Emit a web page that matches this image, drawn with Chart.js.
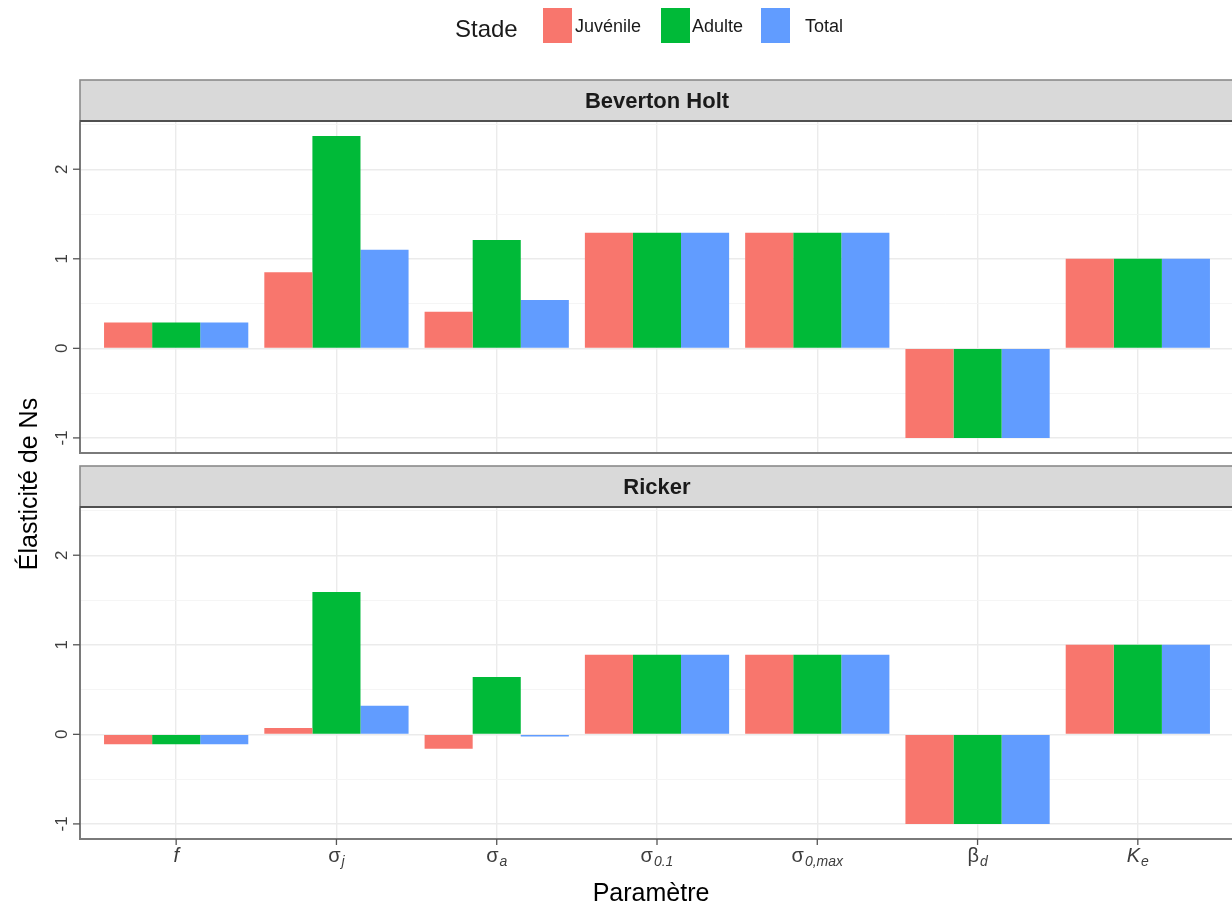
<!DOCTYPE html>
<html><head><meta charset="utf-8">
<script src="https://cdn.jsdelivr.net/npm/chart.js@4.4.1/dist/chart.umd.min.js"></script>
<style>
html,body{margin:0;padding:0;background:#fff;}
#wrap{position:relative;width:1232px;height:906px;overflow:hidden;background:#fff;}
#wrap canvas{position:absolute;left:0;top:0;}
</style></head><body>
<div id="wrap"><canvas id="cTop" width="1234" height="906"></canvas><canvas id="cBot" width="1234" height="906"></canvas></div>
<script>
// ---- data ----
const categories = ['f', 'σj', 'σa', 'σ0.1', 'σ0,max', 'βd', 'Ke'];
const tickBase   = ['f', 'σ', 'σ', 'σ', 'σ', 'β', 'K'];
const tickSub    = ['', 'j', 'a', '0.1', '0,max', 'd', 'e'];
const seriesNames = ['Juvénile', 'Adulte', 'Total'];
const panelNames = ['Beverton Holt', 'Ricker'];
const bhJuvenile = [0.29, 0.85, 0.41, 1.29, 1.29, -1, 1];
const bhAdulte   = [0.29, 2.37, 1.21, 1.29, 1.29, -1, 1];
const bhTotal    = [0.29, 1.10, 0.54, 1.29, 1.29, -1, 1];
const rkJuvenile = [-0.11, 0.07, -0.16, 0.89, 0.89, -1, 1];
const rkAdulte   = [-0.11, 1.59, 0.64, 0.89, 0.89, -1, 1];
const rkTotal    = [-0.11, 0.32, -0.025, 0.89, 0.89, -1, 1];
const yTickValues = [-1, 0, 1, 2];
const legendTitle = 'Stade';
const xTitle = 'Paramètre';
const yTitle = 'Élasticité de Ns';

// ---- styling ----
const colors = ['#F8766D', '#00BA38', '#619CFF'];
const FONT = '"Liberation Sans", Arial, Helvetica, sans-serif';
const allVals = [].concat(bhJuvenile, bhAdulte, bhTotal, rkJuvenile, rkAdulte, rkTotal);
const dMin = Math.min(...allVals), dMax = Math.max(...allVals);
const yMin = dMin - 0.05 * (dMax - dMin), yMax = dMax + 0.05 * (dMax - dMin);
const yGridValues = [];
for (let v = Math.ceil(yMin * 2) / 2; v <= yMax + 1e-9; v += 0.5) yGridValues.push(Math.round(v * 2) / 2);

function drawTickLabel(ctx, base, sub, cx, baseline) {
  const baseFont = (/[A-Za-z]/.test(base) ? 'italic ' : '') + '20px ' + FONT;
  const subFont = 'italic 14px ' + FONT;
  ctx.font = baseFont; const wb = ctx.measureText(base).width;
  ctx.font = subFont; const ws = sub ? ctx.measureText(sub).width + 1 : 0;
  const x0 = cx - (wb + ws) / 2;
  ctx.textAlign = 'left'; ctx.textBaseline = 'alphabetic';
  ctx.fillStyle = '#3d3d3d';
  ctx.font = baseFont; ctx.fillText(base, x0, baseline);
  if (sub) { ctx.font = subFont; ctx.fillText(sub, x0 + wb + 1, baseline + 4); }
}

const facetPlugin = {
  id: 'facet',
  afterDraw(chart, args, opts) {
    const ctx = chart.ctx, a = chart.chartArea;
    const xs = chart.scales.x, ys = chart.scales.y;
    ctx.save();
    // panel border
    ctx.strokeStyle = '#7a7a7a'; ctx.lineWidth = 2;
    ctx.strokeRect(a.left, a.top, a.right - a.left, a.bottom - a.top);
    // strip
    const sh = 41;
    ctx.fillStyle = '#D9D9D9';
    ctx.fillRect(a.left, a.top - sh, a.right - a.left, sh);
    ctx.strokeStyle = '#8a8a8a'; ctx.lineWidth = 1.6;
    ctx.strokeRect(a.left, a.top - sh, a.right - a.left, sh);
    ctx.strokeStyle = '#505050'; ctx.lineWidth = 2;
    ctx.beginPath(); ctx.moveTo(a.left, a.top); ctx.lineTo(a.right, a.top); ctx.stroke();
    ctx.fillStyle = '#1A1A1A'; ctx.font = 'bold 22px ' + FONT;
    ctx.textAlign = 'center'; ctx.textBaseline = 'middle';
    ctx.fillText(opts.title, (a.left + a.right) / 2, a.top - sh / 2 + 1);
    // y ticks + labels
    ctx.strokeStyle = '#555'; ctx.lineWidth = 1.3;
    for (const v of yTickValues) {
      const py = ys.getPixelForValue(v);
      ctx.beginPath(); ctx.moveTo(a.left - 7, py); ctx.lineTo(a.left, py); ctx.stroke();
      ctx.save();
      ctx.translate(67, py); ctx.rotate(-Math.PI / 2);
      ctx.fillStyle = '#3d3d3d'; ctx.font = '17px ' + FONT;
      ctx.textAlign = 'center'; ctx.textBaseline = 'alphabetic';
      ctx.fillText(String(v), 0, 0);
      ctx.restore();
    }
    if (opts.bottom) {
      // x ticks + labels
      categories.forEach((c, i) => {
        const px = xs.getPixelForValue(i);
        ctx.strokeStyle = '#555'; ctx.lineWidth = 1.3;
        ctx.beginPath(); ctx.moveTo(px, a.bottom); ctx.lineTo(px, a.bottom + 6); ctx.stroke();
        drawTickLabel(ctx, tickBase[i], tickSub[i], px, 862);
      });
      // x title
      ctx.fillStyle = '#000'; ctx.font = '25px ' + FONT;
      ctx.textAlign = 'center'; ctx.textBaseline = 'alphabetic';
      ctx.fillText(xTitle, 651, 901);
      // y title
      ctx.save();
      ctx.translate(37, 484); ctx.rotate(-Math.PI / 2);
      ctx.fillStyle = '#000'; ctx.font = '25px ' + FONT;
      ctx.textAlign = 'center'; ctx.textBaseline = 'alphabetic';
      ctx.fillText(yTitle, 0, 0);
      ctx.restore();
    } else {
      // legend
      ctx.fillStyle = '#1A1A1A'; ctx.font = '24px ' + FONT;
      ctx.textAlign = 'left'; ctx.textBaseline = 'middle';
      ctx.fillText(legendTitle, 455, 30);
      const keyX = [543, 661, 761], labX = [575, 692, 805];
      chart.data.datasets.forEach((ds, i) => {
        ctx.fillStyle = ds.backgroundColor;
        ctx.fillRect(keyX[i], 8, 29, 35);
        ctx.fillStyle = '#1A1A1A'; ctx.font = '18px ' + FONT;
        ctx.textBaseline = 'middle';
        ctx.fillText(ds.label, labX[i], 27);
      });
    }
    ctx.restore();
  }
};

function makeChart(id, series, title, padTop, padBottom, bottom) {
  return new Chart(document.getElementById(id), {
    type: 'bar',
    data: {
      datasets: series.map((vals, k) => ({
        label: seriesNames[k],
        data: vals.map((v, i) => ({ x: i, y: v })),
        backgroundColor: colors[k],
        borderWidth: 0,
        categoryPercentage: 0.9,
        barPercentage: 1.0
      }))
    },
    options: {
      responsive: false,
      devicePixelRatio: 1,
      animation: false,
      layout: { padding: { top: padTop, bottom: padBottom, left: 0, right: 0 } },
      plugins: { legend: { display: false }, tooltip: { enabled: false }, facet: { title, bottom } },
      scales: {
        x: {
          type: 'linear', min: -0.6, max: categories.length - 0.4, offset: false,
          afterBuildTicks: s => { s.ticks = categories.map((c, i) => ({ value: i })); },
          afterFit: s => { s.height = 0; },
          ticks: { display: false },
          border: { display: false },
          grid: { offset: false, color: '#EBEBEB', lineWidth: 1.4, drawTicks: false }
        },
        y: {
          type: 'linear', min: yMin, max: yMax,
          afterBuildTicks: s => { s.ticks = yGridValues.map(v => ({ value: v })); },
          afterFit: s => { s.width = 80; },
          ticks: { display: false },
          border: { display: false },
          grid: {
            drawTicks: false,
            color: c => (c.tick && Number.isInteger(c.tick.value)) ? '#EBEBEB' : '#F4F4F4',
            lineWidth: c => (c.tick && Number.isInteger(c.tick.value)) ? 1.4 : 0.9
          }
        }
      }
    },
    plugins: [facetPlugin]
  });
}

makeChart('cTop', [bhJuvenile, bhAdulte, bhTotal], panelNames[0], 121, 906 - 453, false);
makeChart('cBot', [rkJuvenile, rkAdulte, rkTotal], panelNames[1], 507, 906 - 839, true);
</script>
</body></html>
